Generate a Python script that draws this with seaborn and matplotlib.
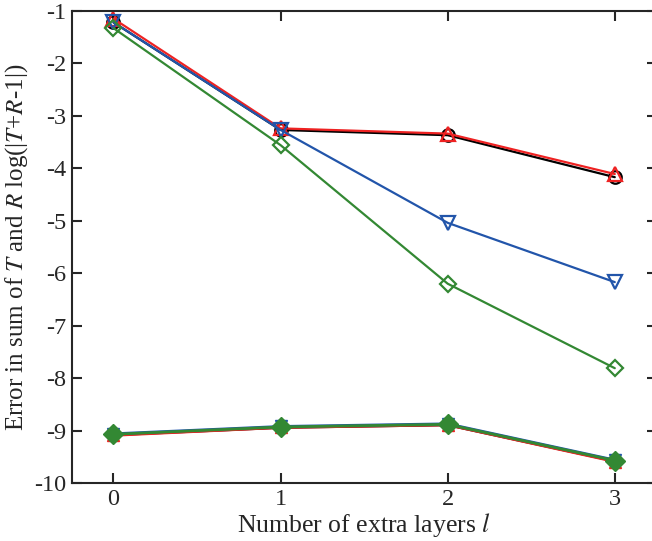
import pandas as pd
import matplotlib
matplotlib.use("Agg")
import matplotlib.pyplot as plt
import seaborn as sns

# extra layers
layers = [0, 1, 2, 3]

# upper curves (open markers)
black_open = [-1.22, -3.27, -3.37, -4.17]
red_open = [-1.15, -3.24, -3.34, -4.11]
blue_open = [-1.22, -3.27, -5.04, -6.17]
green_open = [-1.33, -3.56, -6.20, -7.81]

# lower curves (filled markers)
black_fill = [-9.08, -8.94, -8.89, -9.58]
red_fill = [-9.09, -8.94, -8.89, -9.59]
blue_fill = [-9.06, -8.92, -8.87, -9.56]
green_fill = [-9.07, -8.93, -8.88, -9.57]

colors = ["black", "#ee2222", "#2255aa", "#338833"]
markers = ["o", "^", "v", "D"]
msizes = [9, 10, 10, 8]
fill_sizes = [8, 8, 8, 10]

sns.set_style("ticks")
plt.rcParams["font.family"] = ["Liberation Serif", "DejaVu Serif"]
plt.rcParams["mathtext.fontset"] = "stix"
plt.rcParams["axes.unicode_minus"] = False

fig = plt.figure(figsize=(6.52, 5.41), dpi=100)
ax = fig.add_axes([0.110, 0.107, 0.897, 0.873])

open_series = [black_open, red_open, blue_open, green_open]
fill_series = [black_fill, red_fill, blue_fill, green_fill]

for vals, c, m, ms in zip(open_series, colors, markers, msizes):
    df = pd.DataFrame({"l": layers, "err": vals})
    sns.lineplot(data=df, x="l", y="err", ax=ax, color=c, lw=1.6,
                 marker=m, markersize=ms, markerfacecolor="none",
                 markeredgecolor=c, markeredgewidth=1.6)

for vals, c, m, ms in zip(fill_series, colors, markers, fill_sizes):
    df = pd.DataFrame({"l": layers, "err": vals})
    sns.lineplot(data=df, x="l", y="err", ax=ax, color=c, lw=2.0,
                 marker=m, markersize=ms, markerfacecolor=c,
                 markeredgecolor=c, markeredgewidth=1.0)

ax.set_xlim(-0.25, 3.25)
ax.set_ylim(-10, -1)
ax.set_xticks(layers)
ax.set_yticks(range(-10, 0))
ax.tick_params(direction="in", length=7, width=1.5, labelsize=17.5,
               top=True, right=True, pad=4)
for s in ax.spines.values():
    s.set_linewidth(1.5)

ax.set_xlabel("Number of extra layers $l$", fontsize=18.5, labelpad=1)
ax.set_ylabel("Error in sum of $T$ and $R$ log(|$T$+$R$-1|)", fontsize=18,
              labelpad=3)

fig.savefig("out.png", dpi=100)
